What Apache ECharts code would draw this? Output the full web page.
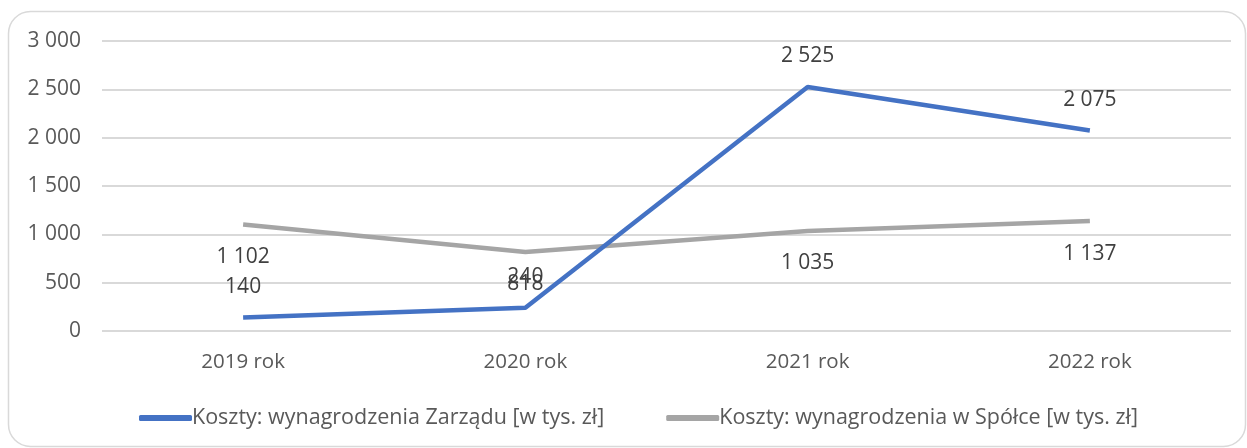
<!DOCTYPE html>
<html>
<head>
<meta charset="utf-8">
<script src="https://cdn.jsdelivr.net/npm/echarts@6/dist/echarts.min.js"></script>
<style>
  html, body { margin: 0; padding: 0; background: #fff; }
  #chart { width: 1247px; height: 448px; }
</style>
</head>
<body>
<div id="chart"></div>
<script>
var categories = ['2019 rok', '2020 rok', '2021 rok', '2022 rok'];
var zarzad = [140, 240, 2525, 2075];
var spolka = [1102, 818, 1035, 1137];
var seriesNames = ['Koszty: wynagrodzenia Zarządu [w tys. zł]', 'Koszty: wynagrodzenia w Spółce [w tys. zł]'];

function fmt(v) {
  return String(v).replace(/\B(?=(\d{3})+(?!\d))/g, ' ');
}

var chart = echarts.init(document.getElementById('chart'));
var font = '"Open Sans", "Liberation Sans", sans-serif';

var option = {
  animation: false,
  textStyle: { fontFamily: font },
  graphic: [{
    type: 'rect',
    shape: { x: 8.5, y: 11.5, width: 1237, height: 435, r: 22 },
    style: { fill: 'none', stroke: '#d9d9d9', lineWidth: 1.5 },
    silent: true
  }],
  grid: { left: 102, right: 16, top: 41, bottom: 117 },
  legend: {
    data: seriesNames,
    top: 402,
    left: 134,
    icon: 'roundRect',
    itemWidth: 53,
    itemHeight: 6,
    itemGap: 62,
    textStyle: { color: '#595959', fontSize: 21.5, fontFamily: font, padding: [0, 0, 0, -5] }
  },
  xAxis: {
    type: 'category',
    data: categories,
    axisLine: { show: false },
    axisTick: { show: false },
    axisLabel: { color: '#595959', fontSize: 20.5, margin: 21 }
  },
  yAxis: {
    type: 'value',
    min: 0,
    max: 3000,
    interval: 500,
    axisLine: { show: false },
    axisTick: { show: false },
    axisLabel: { color: '#595959', fontSize: 21, margin: 21, formatter: fmt },
    splitLine: { lineStyle: { color: '#d9d9d9', width: 2 } }
  },
  series: [{
    name: seriesNames[0],
    type: 'line',
    data: zarzad,
    symbol: 'circle',
    symbolSize: 0,
    lineStyle: { color: '#4472c4', width: 4.5 },
    itemStyle: { color: '#4472c4' },
    label: {
      show: true,
      position: 'top',
      distance: 20,
      color: '#404040',
      fontSize: 21,
      formatter: function (p) { return fmt(p.value); }
    },
    z: 3
  }, {
    name: seriesNames[1],
    type: 'line',
    data: spolka,
    symbol: 'circle',
    symbolSize: 0,
    lineStyle: { color: '#a5a5a5', width: 4.5 },
    itemStyle: { color: '#a5a5a5' },
    label: {
      show: true,
      position: 'bottom',
      distance: 22,
      color: '#404040',
      fontSize: 21,
      formatter: function (p) { return fmt(p.value); }
    },
    z: 2
  }]
};

chart.setOption(option);
</script>
</body>
</html>
